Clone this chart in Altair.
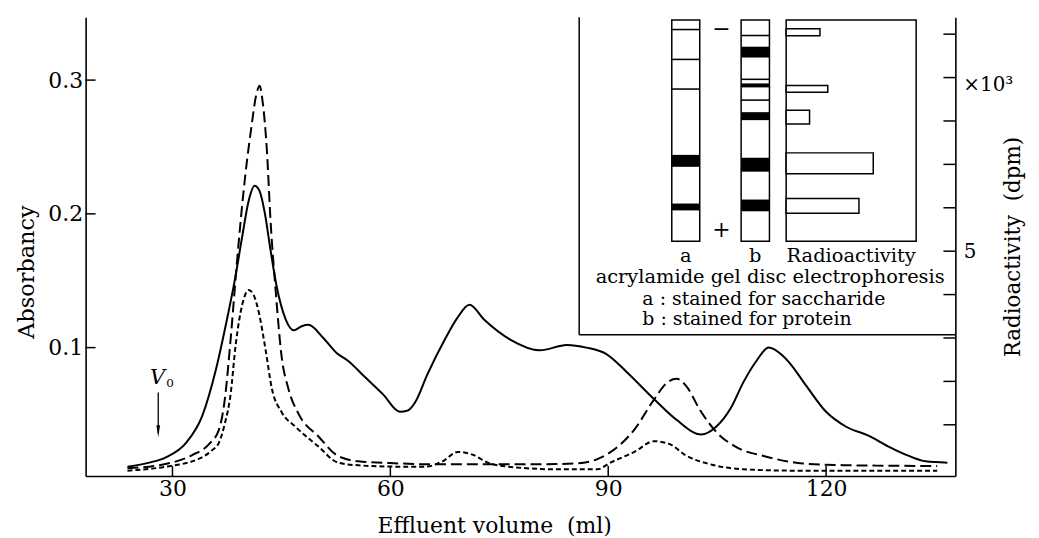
import altair as alt
import pandas as pd

# ---------------- data ----------------
# solid curve (absorbancy)
solid_x = [23.8, 26.8, 29.1, 31.9, 34.1, 36.0, 37.5, 38.6, 39.6, 40.5,
           41.3, 42.0, 42.7, 43.5, 44.3, 45.6, 46.7, 47.8, 48.7, 50.8,
           52.6, 54.2, 56.5, 59.0, 61.3, 62.4, 63.4, 65.1, 67.5, 69.2,
           70.9, 72.9, 76.5, 80.6, 84.3, 87.0, 89.8, 92.5, 96.4, 99.4,
           102.8, 104.9, 106.9, 108.6, 110.4, 112.1, 113.8, 114.9, 117.2, 120.0,
           122.7, 125.9, 128.6, 131.4, 133.7, 136.7]
solid_y = [0.011, 0.014, 0.018, 0.029, 0.049, 0.084, 0.121, 0.151, 0.183, 0.210,
           0.221, 0.217, 0.201, 0.173, 0.147, 0.121, 0.113, 0.116, 0.117, 0.107,
           0.096, 0.090, 0.078, 0.065, 0.052, 0.053, 0.059, 0.080, 0.106, 0.122,
           0.132, 0.121, 0.106, 0.098, 0.102, 0.100, 0.095, 0.082, 0.061, 0.046,
           0.035, 0.041, 0.055, 0.074, 0.090, 0.100, 0.095, 0.089, 0.072, 0.052,
           0.041, 0.034, 0.026, 0.019, 0.015, 0.014]

# short-dashed curve (absorbancy)
short_x = [23.8, 29.1, 33.7, 35.4, 36.4, 37.2, 38.0, 38.7, 39.6, 40.5,
           41.2, 41.9, 42.8, 43.7, 45.0, 46.9, 50.1, 52.8, 55.6, 61.1,
           64.8, 67.2, 69.3, 71.3, 73.4, 76.2, 83.0, 88.5, 90.3, 93.6,
           96.3, 98.4, 100.8, 103.9, 108.6, 115.9, 135.3]
short_y = [0.008, 0.011, 0.017, 0.023, 0.029, 0.043, 0.065, 0.102, 0.132, 0.143,
           0.139, 0.126, 0.099, 0.069, 0.052, 0.041, 0.026, 0.014, 0.012, 0.011,
           0.011, 0.015, 0.022, 0.020, 0.014, 0.011, 0.009, 0.009, 0.014, 0.022,
           0.030, 0.028, 0.019, 0.013, 0.009, 0.008, 0.008]

# long-dashed curve (radioactivity, x10^3 dpm, right axis)
radio_x = [23.8, 28.2, 32.7, 35.0, 36.4, 37.2, 38.0, 38.9, 39.8, 40.8,
           41.6, 42.0, 42.4, 43.0, 43.5, 44.2, 45.0, 46.0, 47.4, 50.1,
           52.8, 55.6, 61.1, 65.6, 73.0, 80.3, 85.7, 88.5, 90.3, 93.6,
           96.3, 98.1, 99.4, 100.8, 102.6, 104.9, 107.7, 111.4, 116.8, 122.3,
           135.3]
radio_y = [0.00, 0.07, 0.30, 0.55, 0.89, 1.58, 2.96, 4.79, 6.40, 7.78,
           8.65, 8.81, 8.46, 7.32, 5.71, 4.11, 2.61, 1.81, 1.24, 0.73,
           0.28, 0.16, 0.11, 0.09, 0.09, 0.09, 0.11, 0.21, 0.37, 0.89,
           1.58, 1.97, 2.06, 1.88, 1.35, 0.83, 0.48, 0.28, 0.11, 0.07,
           0.05]

x_ticks = [30, 60, 90, 120]
y_ticks = [0.1, 0.2, 0.3]
r_ticks = [1, 2, 3, 4, 5, 6, 7, 8, 9, 10]
r_labels = [5]
v0_position = [28.04]

# inset: disc electrophoresis (positions as fraction of gel length, - end = 0)
gel_a_top = [0.040, 0.175, 0.309, 0.610, 0.830]
gel_a_bot = [0.047, 0.182, 0.316, 0.664, 0.861]
gel_b_top = [0.067, 0.121, 0.265, 0.287, 0.359, 0.417, 0.623, 0.812]
gel_b_bot = [0.074, 0.170, 0.272, 0.305, 0.366, 0.453, 0.686, 0.865]
slice_top = [0.040, 0.296, 0.408, 0.601, 0.807]
slice_bot = [0.072, 0.327, 0.471, 0.695, 0.874]
slice_radio = [0.26, 0.32, 0.18, 0.67, 0.56]   # relative radioactivity

# ---------------- layout ----------------
F = "DejaVu Serif"
W, H = 874, 461
X_DOM = [18.04, 137.8]
Y_DOM = [0.004, 0.347]
R_DOM = [-0.18, 10.39]
xs = alt.Scale(domain=X_DOM, nice=False, zero=False)
ys = alt.Scale(domain=Y_DOM, nice=False, zero=False)
rs = alt.Scale(domain=R_DOM, nice=False, zero=False)

FRAME_X, FRAME_Y = 86.0, 0.1097
GEL_TOP, GEL_BOT = 0.345, 0.1796
GEL_A = (98.75, 102.6)
GEL_B = (108.3, 112.2)
BOX = (114.5, 132.4)

AXIS_STYLE = dict(domain=True, domainColor="black", domainWidth=1.6, ticks=False,
                  labelFont=F, labelColor="black", title=None, grid=False)


def gy(f):
    return GEL_TOP - f * (GEL_TOP - GEL_BOT)


def X(field="x"):
    return alt.X(f"{field}:Q", scale=xs, axis=None)


def Y(field="y"):
    return alt.Y(f"{field}:Q", scale=ys, axis=None)


# ---------------- curves ----------------
solid = alt.Chart(pd.DataFrame({"x": solid_x, "y": solid_y})).mark_line(
    color="black", strokeWidth=2, interpolate="monotone"
).encode(
    x=alt.X("x:Q", scale=xs, axis=alt.Axis(
        values=x_ticks, labelPadding=3, labelFontSize=22, **AXIS_STYLE)),
    y=alt.Y("y:Q", scale=ys, axis=alt.Axis(
        values=y_ticks, format=".1f", labelPadding=3, labelFontSize=22, **AXIS_STYLE)),
)

short = alt.Chart(pd.DataFrame({"x": short_x, "y": short_y})).mark_line(
    color="black", strokeWidth=2, strokeDash=[5, 3], interpolate="monotone"
).encode(x=X(), y=Y())

radio = alt.Chart(pd.DataFrame({"x": radio_x, "r": radio_y})).mark_line(
    color="black", strokeWidth=2, strokeDash=[11, 5], interpolate="monotone"
).encode(
    x=X(),
    y=alt.Y("r:Q", scale=rs, axis=alt.Axis(
        orient="right", values=r_labels, labelPadding=8, labelFontSize=20, **AXIS_STYLE)),
)

# ---------------- inward ticks ----------------
left_ticks = alt.Chart(pd.DataFrame({"y": y_ticks})).mark_rule(
    color="black", strokeWidth=1.5).encode(y=Y(), x=alt.value(0), x2=alt.value(10))
bottom_ticks = alt.Chart(pd.DataFrame({"x": x_ticks})).mark_rule(
    color="black", strokeWidth=1.5).encode(x=X(), y=alt.value(H), y2=alt.value(H - 10))
right_ticks = alt.Chart(pd.DataFrame({"r": r_ticks})).mark_rule(
    color="black", strokeWidth=1.5).encode(
    y=alt.Y("r:Q", scale=rs, axis=None), x=alt.value(W - 12), x2=alt.value(W))

# ---------------- V0 marker ----------------
v0_rule = alt.Chart(pd.DataFrame({"x": v0_position, "y": [0.0665], "y2": [0.036]})).mark_rule(
    color="black", strokeWidth=1.3).encode(x=X(), y=Y(), y2="y2:Q")
v0_head = alt.Chart(pd.DataFrame({"x": v0_position, "y": [0.0375]})).mark_point(
    shape="M-0.3,-1L0,1L0.3,-1Z", filled=True, color="black", size=144, opacity=1
).encode(x=X(), y=Y())
v0_V = alt.Chart(pd.DataFrame({"x": [27.95], "y": [0.0725], "t": ["V"]})).mark_text(
    font=F, fontSize=21, fontStyle="italic", baseline="alphabetic", align="center",
    color="black").encode(x=X(), y=Y(), text="t:N")
v0_sub = alt.Chart(pd.DataFrame({"x": [29.15], "y": [0.0705], "t": ["0"]})).mark_text(
    font=F, fontSize=12, baseline="alphabetic", align="left", color="black"
).encode(x=X(), y=Y(), text="t:N")

# ---------------- inset ----------------
frame_v = alt.Chart(pd.DataFrame({"x": [FRAME_X], "y": [Y_DOM[1]], "y2": [FRAME_Y]})).mark_rule(
    color="black", strokeWidth=1.5).encode(x=X(), y=Y(), y2="y2:Q")
frame_h = alt.Chart(pd.DataFrame({"x": [FRAME_X], "x2": [X_DOM[1]], "y": [FRAME_Y]})).mark_rule(
    color="black", strokeWidth=1.5).encode(x=X(), x2="x2:Q", y=Y())

outlines = pd.DataFrame({
    "x": [GEL_A[0], GEL_B[0], BOX[0]],
    "x2": [GEL_A[1], GEL_B[1], BOX[1]],
    "y": [GEL_TOP] * 3,
    "y2": [GEL_BOT] * 3,
})
outline_layer = alt.Chart(outlines).mark_rect(
    fill="white", stroke="black", strokeWidth=1.5).encode(x=X(), x2="x2:Q", y=Y(), y2="y2:Q")

band_rows = []
for t, b in zip(gel_a_top, gel_a_bot):
    band_rows.append({"x": GEL_A[0], "x2": GEL_A[1], "y": gy(t), "y2": gy(b)})
for t, b in zip(gel_b_top, gel_b_bot):
    band_rows.append({"x": GEL_B[0], "x2": GEL_B[1], "y": gy(t), "y2": gy(b)})
band_layer = alt.Chart(pd.DataFrame(band_rows)).mark_rect(fill="black").encode(
    x=X(), x2="x2:Q", y=Y(), y2="y2:Q")

bar_rows = []
for t, b, v in zip(slice_top, slice_bot, slice_radio):
    bar_rows.append({"x": BOX[0], "x2": BOX[0] + v * (BOX[1] - BOX[0]), "y": gy(t), "y2": gy(b)})
bar_layer = alt.Chart(pd.DataFrame(bar_rows)).mark_rect(
    fill="white", stroke="black", strokeWidth=1.5).encode(x=X(), x2="x2:Q", y=Y(), y2="y2:Q")

signs = alt.Chart(pd.DataFrame({
    "x": [105.6, 105.6], "y": [gy(0.04), gy(0.95)], "t": ["\u2212", "+"]
})).mark_text(font=F, fontSize=22, baseline="middle", align="center", color="black").encode(
    x=X(), y=Y(), text="t:N")

center_texts = alt.Chart(pd.DataFrame({
    "x": [sum(GEL_A) / 2, sum(GEL_B) / 2, sum(BOX) / 2, 112.3],
    "y": [0.164, 0.164, 0.164, 0.1483],
    "t": ["a", "b", "Radioactivity", "acrylamide gel disc electrophoresis"],
})).mark_text(font=F, fontSize=19.5, baseline="alphabetic", align="center", color="black").encode(
    x=X(), y=Y(), text="t:N")

left_texts = alt.Chart(pd.DataFrame({
    "x": [94.7, 94.7],
    "y": [0.132, 0.117],
    "t": ["a : stained for saccharide", "b : stained for protein"],
})).mark_text(font=F, fontSize=19, baseline="alphabetic", align="left", color="black").encode(
    x=X(), y=Y(), text="t:N")

# ---------------- axis titles and unit ----------------
y_title = alt.Chart(pd.DataFrame({"t": ["Absorbancy"]})).mark_text(
    font=F, fontSize=22.5, angle=270, baseline="middle", align="center", color="black"
).encode(x=alt.value(-59), y=alt.value(256), text="t:N")
x_title = alt.Chart(pd.DataFrame({"t": ["Effluent volume \u00a0(ml)"]})).mark_text(
    font=F, fontSize=22, baseline="alphabetic", align="center", color="black"
).encode(x=alt.value(411), y=alt.value(518), text="t:N")
right_title = alt.Chart(pd.DataFrame({"t": ["Radioactivity \u00a0(dpm)"]})).mark_text(
    font=F, fontSize=21.5, angle=270, baseline="middle", align="center", color="black"
).encode(x=alt.value(933), y=alt.value(231), text="t:N")
unit_text = alt.Chart(pd.DataFrame({"t": ["\u00d710\u00b3"]})).mark_text(
    font=F, fontSize=20, baseline="middle", align="left", color="black"
).encode(x=alt.value(882), y=alt.value(68), text="t:N")

chart = alt.layer(
    outline_layer, band_layer, bar_layer, frame_v, frame_h,
    solid, short, radio, left_ticks, bottom_ticks, right_ticks,
    v0_rule, v0_head, v0_V, v0_sub,
    signs, center_texts, left_texts, y_title, x_title, right_title, unit_text,
).resolve_scale(x="independent", y="independent").properties(
    width=W, height=H,
    autosize=alt.AutoSizeParams(type="none"),
    padding={"left": 78, "top": 8, "right": 76, "bottom": 60},
    background="white",
).configure_view(stroke=None)

chart.save("out.html", embed_options={"renderer": "svg", "actions": False})
